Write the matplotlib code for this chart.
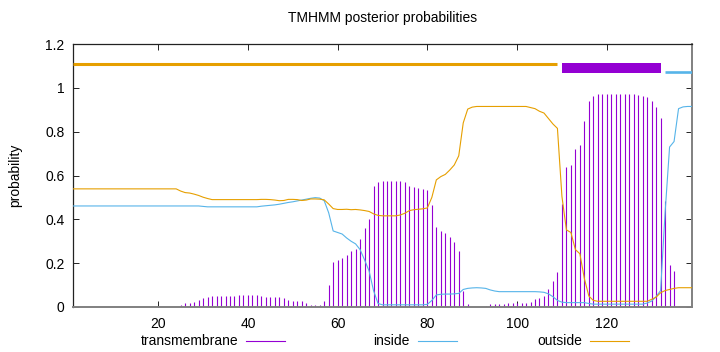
import matplotlib
matplotlib.use('Agg')
import matplotlib.pyplot as plt
from matplotlib.lines import Line2D

plt.rcParams['font.family'] = ['Liberation Sans', 'DejaVu Sans']
plt.rcParams['font.size'] = 10

# ---------------- data ----------------
residues = list(range(1, 140))

transmembrane = [
    0.0, 0.0, 0.0, 0.0, 0.0, 0.0, 0.0, 0.0, 0.0, 0.0,
    0.0, 0.0, 0.0, 0.0, 0.0, 0.0, 0.0, 0.0, 0.0, 0.0,
    0.0, 0.0, 0.0, 0.0,
    0.011, 0.017, 0.017, 0.024, 0.030, 0.040, 0.047, 0.049, 0.050, 0.050,
    0.052, 0.052, 0.052, 0.053, 0.053, 0.053, 0.053, 0.053, 0.049, 0.047,
    0.046, 0.046, 0.046, 0.041, 0.032, 0.029, 0.026, 0.026, 0.020, 0.011,
    0.008, 0.011, 0.026, 0.100, 0.204, 0.215, 0.222, 0.237, 0.256, 0.265,
    0.310, 0.359, 0.403, 0.551, 0.571, 0.575, 0.575, 0.575, 0.574, 0.574,
    0.571, 0.553, 0.549, 0.545, 0.540, 0.534, 0.467, 0.365, 0.349, 0.339,
    0.320, 0.297, 0.254, 0.072, 0.012, 0.002, 0.001, 0.002, 0.005, 0.015,
    0.015, 0.015, 0.015, 0.016, 0.016, 0.017, 0.020, 0.020, 0.021, 0.035,
    0.043, 0.049, 0.082, 0.119, 0.160, 0.472, 0.639, 0.647, 0.723, 0.738,
    0.848, 0.939, 0.962, 0.970, 0.970, 0.971, 0.971, 0.971, 0.971, 0.971,
    0.971, 0.970, 0.966, 0.963, 0.959, 0.939, 0.913, 0.863, 0.482, 0.190,
    0.164, 0.005, 0.0, 0.0, 0.0,
]

inside = [
    0.461, 0.461, 0.461, 0.461, 0.461, 0.461, 0.461, 0.461, 0.461, 0.461,
    0.461, 0.461, 0.461, 0.461, 0.461, 0.461, 0.461, 0.461, 0.461, 0.461,
    0.461, 0.461, 0.461, 0.461, 0.461, 0.461, 0.461, 0.461, 0.461,
    0.459, 0.457, 0.457, 0.457, 0.457, 0.457, 0.457, 0.457, 0.457, 0.457,
    0.457, 0.457, 0.457, 0.460, 0.462, 0.464, 0.466, 0.469, 0.473, 0.477,
    0.480, 0.484, 0.488, 0.492, 0.496, 0.499, 0.497, 0.485, 0.430, 0.347,
    0.340, 0.333, 0.315, 0.300, 0.288, 0.262, 0.215, 0.165, 0.075, 0.016,
    0.010, 0.010, 0.010, 0.010, 0.010, 0.010, 0.010, 0.010, 0.010, 0.010,
    0.012, 0.030, 0.055, 0.058, 0.059, 0.059, 0.060, 0.062, 0.080, 0.085,
    0.087, 0.088, 0.087, 0.085, 0.078, 0.073, 0.070, 0.070, 0.070, 0.070,
    0.070, 0.070, 0.070, 0.070, 0.070, 0.069, 0.067, 0.060, 0.047, 0.030,
    0.022, 0.020, 0.020, 0.020, 0.020, 0.020, 0.016, 0.013, 0.013, 0.013,
    0.013, 0.013, 0.013, 0.013, 0.013, 0.013, 0.013, 0.013, 0.013, 0.018,
    0.027, 0.047, 0.075, 0.430, 0.730, 0.755, 0.905, 0.913, 0.915, 0.915,
]

outside = [
    0.539, 0.539, 0.539, 0.539, 0.539, 0.539, 0.539, 0.539, 0.539, 0.539,
    0.539, 0.539, 0.539, 0.539, 0.539, 0.539, 0.539, 0.539, 0.539, 0.539,
    0.539, 0.539, 0.539, 0.539,
    0.529, 0.522, 0.520, 0.515, 0.509, 0.501, 0.495, 0.490, 0.490, 0.490,
    0.490, 0.490, 0.490, 0.490, 0.490, 0.490, 0.490, 0.490, 0.491, 0.491,
    0.490, 0.488, 0.485, 0.486, 0.491, 0.491, 0.490, 0.486, 0.488, 0.493,
    0.493, 0.492, 0.489, 0.470, 0.449, 0.445, 0.445, 0.446, 0.444, 0.445,
    0.443, 0.440, 0.436, 0.425, 0.418, 0.416, 0.416, 0.416, 0.416, 0.420,
    0.428, 0.440, 0.444, 0.446, 0.448, 0.452, 0.500, 0.580, 0.595, 0.605,
    0.625, 0.648, 0.690, 0.840, 0.903, 0.912, 0.915, 0.915, 0.915, 0.915,
    0.915, 0.915, 0.915, 0.915, 0.915, 0.915, 0.915, 0.915, 0.910, 0.905,
    0.893, 0.885, 0.860, 0.835, 0.815, 0.505, 0.352, 0.340, 0.262, 0.243,
    0.130, 0.050, 0.030, 0.026, 0.026, 0.026, 0.026, 0.026, 0.026, 0.026,
    0.026, 0.026, 0.026, 0.026, 0.026, 0.035, 0.045, 0.065, 0.075, 0.080,
    0.085, 0.088, 0.088, 0.088, 0.088,
]

# predicted topology (label, start, end, level)
topo_labels = ["outside", "TMhelix", "inside"]
topo_start = [1, 110, 133]
topo_end = [109, 132, 139]
topo_level = [1.11, 1.089, 1.07]

x_ticks = [20, 40, 60, 80, 100, 120]
y_ticks = [0, 0.2, 0.4, 0.6, 0.8, 1.0, 1.2]
y_tick_labels = ["0", "0.2", "0.4", "0.6", "0.8", "1", "1.2"]

# ---------------- style ----------------
C_TM = '#9400D3'
C_IN = '#56B4E9'
C_OUT = '#E69F00'
topo_colors = {"outside": C_OUT, "TMhelix": C_TM, "inside": C_IN}
topo_widths = {"outside": 2.2, "TMhelix": 7.2, "inside": 1.9}

W, H = 720, 352
fig = plt.figure(figsize=(W / 100, H / 100), dpi=100)
ax = fig.add_axes([73 / W, 1 - 307 / H, (692 - 73) / W, (307 - 44) / H])

ax.vlines(residues, 0, transmembrane, colors=C_TM, linewidth=0.8, zorder=2)
ax.plot(residues, inside, color=C_IN, linewidth=0.8, zorder=3)
ax.plot(residues, outside, color=C_OUT, linewidth=0.8, zorder=4)

for lab, s, e, lv in zip(topo_labels, topo_start, topo_end, topo_level):
    ax.plot([s, e], [lv, lv], color=topo_colors[lab], linewidth=topo_widths[lab],
            solid_capstyle='butt', zorder=5)

ax.set_xlim(1, 139)
ax.set_ylim(0, 1.2)
ax.set_xticks(x_ticks)
ax.set_yticks(y_ticks)
ax.set_yticklabels(y_tick_labels)
ax.tick_params(direction='in', length=4, width=0.6, top=True, right=True,
               labelsize=10, colors='black')
ax.tick_params(axis='x', pad=7)
ax.tick_params(axis='y', pad=6)
for name, sp in ax.spines.items():
    if name in ('bottom', 'right'):
        sp.set_linewidth(1.4)
        sp.set_color('#808080')
    else:
        sp.set_linewidth(0.9)
        sp.set_color('#222222')

ax.set_ylabel('probability', fontsize=10)
ax.yaxis.set_label_coords((22 - 73) / (692 - 73), 0.5)
fig.text(382.5 / W, 1 - 18 / H, 'TMHMM posterior probabilities',
         ha='center', va='center', fontsize=10)

# legend (gnuplot style: text then sample, three equal columns)
legend_names = ["transmembrane", "inside", "outside"]
legend_colors = [C_TM, C_IN, C_OUT]
legend_text_right = [238, 410, 582]
ly = 1 - 341 / H
for txt, col, tx in zip(legend_names, legend_colors, legend_text_right):
    fig.text(tx / W, ly, txt, ha='right', va='center', fontsize=10)
    fig.add_artist(Line2D([(tx + 8) / W, (tx + 47) / W], [ly, ly], color=col,
                          linewidth=0.8, transform=fig.transFigure))

fig.savefig('out.png', dpi=100)
